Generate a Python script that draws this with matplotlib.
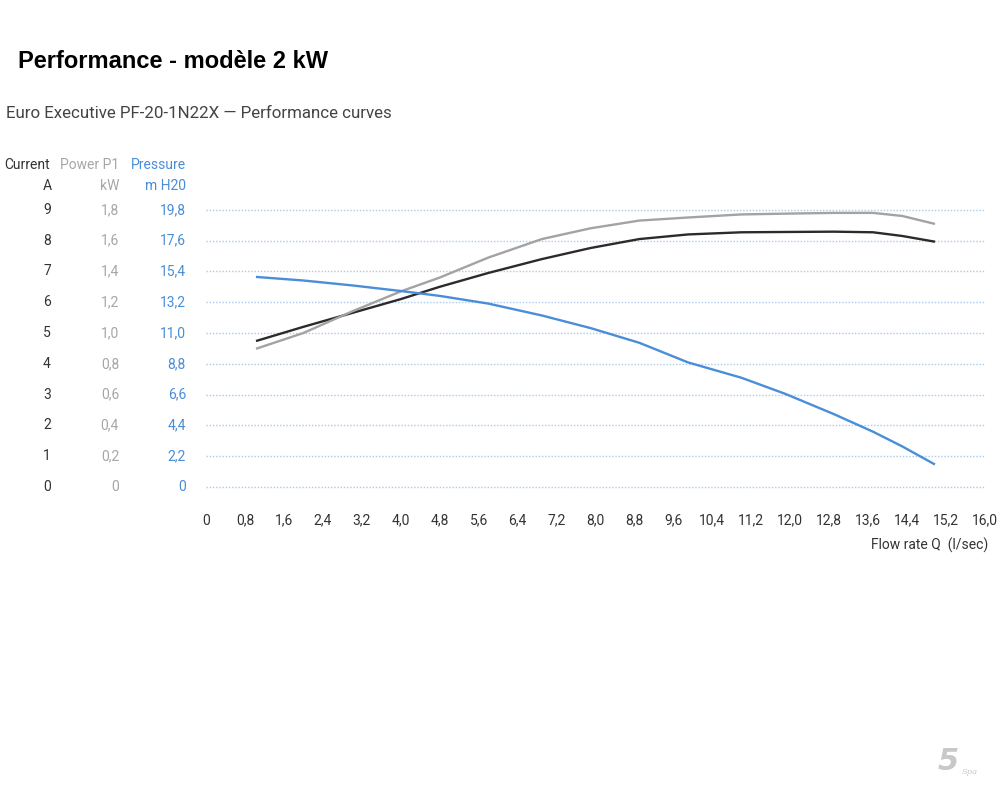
import matplotlib.pyplot as plt
from matplotlib import transforms

# values
flow_q = [1.05, 2.0, 3.0, 4.0, 4.8, 5.8, 6.9, 7.9, 8.9, 9.9, 11.0, 11.9, 12.9, 13.7, 14.3, 14.95]
current_a = [4.75, 5.2, 5.65, 6.1, 6.5, 6.95, 7.4, 7.76, 8.05, 8.2, 8.27, 8.28, 8.29, 8.27, 8.15, 7.97]
power_kw = [0.90, 1.00, 1.14, 1.27, 1.36, 1.49, 1.61, 1.68, 1.73, 1.75, 1.77, 1.775, 1.78, 1.78, 1.76, 1.71]
pressure_m = [15.0, 14.75, 14.4, 14.0, 13.65, 13.1, 12.25, 11.35, 10.3, 8.9, 7.8, 6.65, 5.2, 3.95, 2.9, 1.65]

current_ticks = [0, 1, 2, 3, 4, 5, 6, 7, 8, 9]
power_ticks = [0, 0.2, 0.4, 0.6, 0.8, 1.0, 1.2, 1.4, 1.6, 1.8]
pressure_ticks = [0, 2.2, 4.4, 6.6, 8.8, 11.0, 13.2, 15.4, 17.6, 19.8]
flow_ticks = [0, 0.8, 1.6, 2.4, 3.2, 4.0, 4.8, 5.6, 6.4, 7.2, 8.0, 8.8, 9.6, 10.4,
              11.2, 12.0, 12.8, 13.6, 14.4, 15.2, 16.0]

dark = "#333333"
light = "#a6a6a6"
blue = "#4a8dd8"
font = "Roboto"


def comma(v):
    if v == 0:
        return "0"
    return f"{v:.1f}".replace(".", ",")


fig = plt.figure(figsize=(10, 8), dpi=100)
ax = fig.add_axes([0.206, 0.372, 0.779, 0.385])
ax_pow = ax.twinx()
ax_pre = ax.twinx()

ax.set_xlim(0, 16)
ax.set_ylim(-0.5, 9.5)
ax_pow.set_ylim(-0.1, 1.9)
ax_pre.set_ylim(-1.1, 20.9)

for a in (ax, ax_pow, ax_pre):
    for s in a.spines.values():
        s.set_visible(False)
ax_pow.set_yticks([])
ax_pre.set_yticks([])
ax.set_yticks([])

# dotted gridlines
for c in current_ticks:
    ax.axhline(c, color="#a9cbea", lw=1.0, ls=(0, (1, 1.3)), zorder=0)

ax.plot(flow_q, current_a, color="#2b2b2b", lw=1.7, zorder=3)
ax_pow.plot(flow_q, power_kw, color="#a3a3a3", lw=1.7, zorder=3)
ax_pre.plot(flow_q, pressure_m, color=blue, lw=1.7, zorder=3)

ax.set_xticks(flow_ticks)
ax.set_xticklabels([comma(v) for v in flow_ticks], fontsize=10, color=dark, family=font)
ax.tick_params(axis="x", length=0, pad=8)

# y value columns
tr_cur = transforms.blended_transform_factory(fig.transFigure, ax.transData)
tr_pow = transforms.blended_transform_factory(fig.transFigure, ax_pow.transData)
tr_pre = transforms.blended_transform_factory(fig.transFigure, ax_pre.transData)
for v in current_ticks:
    fig.text(0.047, v, str(v), transform=tr_cur, ha="center", va="center",
             fontsize=10, color=dark, family=font)
for v in power_ticks:
    fig.text(0.119, v, comma(v), transform=tr_pow, ha="right", va="center",
             fontsize=10, color=light, family=font)
for v in pressure_ticks:
    fig.text(0.186, v, comma(v), transform=tr_pre, ha="right", va="center",
             fontsize=10, color=blue, family=font)

# column headers
fig.text(0.050, 1 - 165 / 800, "Current", ha="right", va="center", fontsize=10, color=dark, family=font)
fig.text(0.047, 1 - 186 / 800, "A", ha="center", va="center", fontsize=10, color=dark, family=font)
fig.text(0.119, 1 - 165 / 800, "Power P1", ha="right", va="center", fontsize=10, color=light, family=font)
fig.text(0.119, 1 - 186 / 800, "kW", ha="right", va="center", fontsize=10, color=light, family=font)
fig.text(0.186, 1 - 165 / 800, "Pressure", ha="right", va="center", fontsize=10, color=blue, family=font)
fig.text(0.186, 1 - 186 / 800, "m H20", ha="right", va="center", fontsize=10, color=blue, family=font)

fig.text(0.988, 1 - 545 / 800, "Flow rate Q  (l/sec)", ha="right", va="center",
         fontsize=10, color=dark, family=font)

fig.text(0.018, 1 - 62 / 800, "Performance - modèle 2 kW", ha="left", va="center",
         fontsize=17, fontweight="bold", color="black", family="Liberation Sans")
fig.text(0.006, 1 - 113 / 800, "Euro Executive PF-20-1N22X — Performance curves", ha="left",
         va="center", fontsize=12.2, color="#444444", family=font)

# small logo mark bottom right
fig.text(0.948, 1 - 762 / 800, "5", ha="center", va="center", fontsize=22, fontweight="bold",
         style="italic", color="#c8c8c8", family="DejaVu Sans")
fig.text(0.970, 1 - 772 / 800, "Spa", ha="center", va="center", fontsize=6,
         style="italic", color="#c8c8c8", family="DejaVu Serif")

fig.savefig("out.png", dpi=100)
